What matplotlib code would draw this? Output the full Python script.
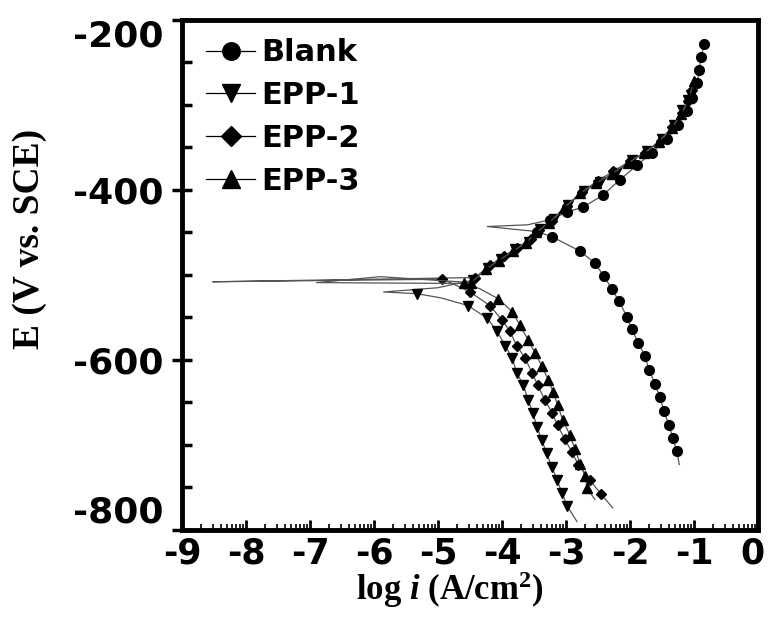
import matplotlib
matplotlib.use("Agg")
import matplotlib.pyplot as plt
import matplotlib.transforms as mtransforms
from matplotlib.ticker import FixedLocator, MultipleLocator

# Tafel polarisation data: log i (A/cm2) and E (mV vs. SCE),
# ordered along the sweep (cathodic end -> Ecorr -> anodic end)
blank_logi = [-1.23, -1.27, -1.33, -1.39, -1.47, -1.53, -1.61, -1.70, -1.77, -1.87,
              -1.97, -2.05, -2.17, -2.28, -2.41, -2.55, -2.78, -3.22, -3.45,
              -4.23, -3.60,
              -3.25, -2.98, -2.73, -2.42, -2.16, -1.89, -1.66, -1.42, -1.25, -1.11,
              -1.03, -0.95, -0.92, -0.89, -0.84]
blank_E = [-723, -707, -692, -677, -660, -644, -628, -612, -595, -580,
           -564, -549, -531, -517, -501, -486, -472, -455, -449,
           -443, -441,
           -435, -426, -420, -406, -388, -371, -356, -340, -323, -307,
           -292, -274, -259, -244, -228]
blank_nomark = [0, 19, 20]

epp1_logi = [-2.83, -2.98, -3.06, -3.14, -3.22, -3.30, -3.38, -3.45, -3.52, -3.59,
             -3.67, -3.77, -3.84, -3.95, -4.08, -4.23, -4.53, -4.95, -5.33,
             -5.85, -5.00,
             -4.45, -4.22, -4.02, -3.80, -3.58, -3.40, -3.18, -2.97, -2.72, -2.47,
             -2.22, -1.97, -1.73, -1.50, -1.32, -1.18, -1.09, -1.05]
epp1_E = [-790, -772, -757, -741, -726, -710, -694, -679, -662, -647,
          -629, -615, -598, -583, -566, -551, -536, -527, -522,
          -520, -515,
          -506, -492, -481, -470, -461, -446, -434, -418, -401, -391,
          -380, -365, -354, -340, -323, -306, -294, -288]
epp1_nomark = [0, 17, 19, 20]

epp2_logi = [-2.27, -2.45, -2.63, -2.81, -2.91, -3.02, -3.13, -3.22, -3.33, -3.44,
             -3.53, -3.64, -3.77, -3.88, -4.00, -4.19, -4.50, -4.75, -4.94,
             -8.52, -5.20,
             -4.42, -4.18, -3.97, -3.77, -3.55, -3.42, -3.22, -2.99, -2.75, -2.50,
             -2.26, -2.00, -1.76, -1.52, -1.34, -1.19, -1.09, -1.03]
epp2_E = [-774, -758, -741, -723, -708, -693, -677, -662, -647, -630,
          -615, -598, -583, -566, -553, -536, -520, -511, -505,
          -508, -504,
          -503, -488, -478, -468, -458, -447, -436, -419, -402, -389,
          -378, -366, -356, -342, -326, -310, -295, -282]
epp2_nomark = [0, 17, 19, 20]

epp3_logi = [-2.55, -2.67, -2.70, -2.78, -2.86, -2.94, -3.05, -3.13, -3.20, -3.28,
             -3.38, -3.48, -3.59, -3.72, -3.84, -4.06, -4.35, -4.60,
             -6.90, -5.90,
             -4.48, -4.25, -4.05, -3.83, -3.62, -3.47, -3.27, -3.03, -2.78, -2.53,
             -2.28, -2.03, -1.78, -1.55, -1.35, -1.20, -1.08, -1.00]
epp3_E = [-764, -751, -737, -722, -705, -688, -671, -653, -638, -623,
          -607, -592, -577, -559, -543, -528, -516, -510,
          -509, -502,
          -509, -493, -483, -472, -462, -450, -439, -421, -404, -392,
          -381, -368, -357, -343, -327, -311, -292, -272]
epp3_nomark = [0, 16, 18, 19]

labels = ["Blank", "EPP-1", "EPP-2", "EPP-3"]
markers = ["o", "v", "D", "^"]
x_ticks = [-9, -8, -7, -6, -5, -4, -3, -2, -1, 0]
y_ticks = [-200, -400, -600, -800]

series = [(blank_logi, blank_E, blank_nomark),
          (epp1_logi, epp1_E, epp1_nomark),
          (epp2_logi, epp2_E, epp2_nomark),
          (epp3_logi, epp3_E, epp3_nomark)]

plt.rcParams["axes.unicode_minus"] = False
plt.rcParams["mathtext.fontset"] = "custom"
plt.rcParams["mathtext.rm"] = "Liberation Serif:bold"
plt.rcParams["mathtext.it"] = "Liberation Serif:italic:bold"

fig = plt.figure(figsize=(7.69, 6.2), dpi=100)
ax = fig.add_axes([0.2367, 0.1452, 0.749, 0.8226])

for (xs, ys, nomark), lab, mk in zip(series, labels, markers):
    keep = [i for i in range(len(xs)) if i not in nomark]
    ms = 7 if mk == "o" else (5.5 if mk == "D" else 7.5)
    ax.plot(xs, ys, color="#555555", lw=0.9, marker=mk, markevery=keep,
            ms=ms, mfc="black", mec="black", label=lab)

ax.set_xlim(-9, 0)
ax.set_ylim(-800, -200)

ax.set_xticks(x_ticks)
ax.set_xticklabels([str(t) for t in x_ticks])
minor_x = [d + m for d in range(-9, 0) for m in (0.301, 0.477, 0.602, 0.699, 0.778, 0.845, 0.903, 0.954)]
ax.xaxis.set_minor_locator(FixedLocator(minor_x))
ax.set_yticks(y_ticks)
ax.set_yticklabels([str(t) for t in y_ticks])
ax.yaxis.set_minor_locator(MultipleLocator(50))

ax.tick_params(axis="x", which="major", direction="in", length=7, width=2, pad=5)
ax.tick_params(axis="x", which="minor", direction="in", length=4, width=1.2)
ax.tick_params(axis="y", which="major", direction="inout", length=14, width=2.5, pad=6)
ax.tick_params(axis="y", which="minor", direction="in", length=7, width=2.5)
for lbl in ax.get_xticklabels():
    lbl.set_fontfamily("DejaVu Sans")
    lbl.set_fontweight("bold")
    lbl.set_fontsize(25)
for lbl in ax.get_yticklabels():
    lbl.set_fontfamily("DejaVu Sans")
    lbl.set_fontweight("bold")
    lbl.set_fontsize(26)
ylbls = ax.get_yticklabels()
ylbls[0].set_va("top")
ylbls[-1].set_va("bottom")
xlbls = ax.get_xticklabels()
xlbls[-1].set_transform(xlbls[-1].get_transform() +
                        mtransforms.ScaledTranslation(-4 / 72, 0, fig.dpi_scale_trans))

for sp in ax.spines.values():
    sp.set_linewidth(3.5)

ax.set_ylabel("E (V vs. SCE)", fontfamily="Liberation Serif", fontweight="bold", fontsize=27)
ax.yaxis.set_label_coords(-0.235, 0.57)
ax.set_xlabel(r"log $\mathit{i}$ (A/cm$^2$)", fontfamily="Liberation Serif",
              fontweight="bold", fontsize=25)
ax.xaxis.set_label_coords(0.465, -0.078)
ax.xaxis.label.set_va("top")

leg = ax.legend(loc="upper left", bbox_to_anchor=(0.01, 1.0), frameon=False,
                prop={"family": "DejaVu Sans", "weight": "bold", "size": 22},
                handlelength=1.6, handletextpad=0.2, labelspacing=0.45,
                borderpad=0.1, markerscale=1.8)
for h in leg.legend_handles:
    h.set_color("black")

fig.savefig("out.png", dpi=100)
